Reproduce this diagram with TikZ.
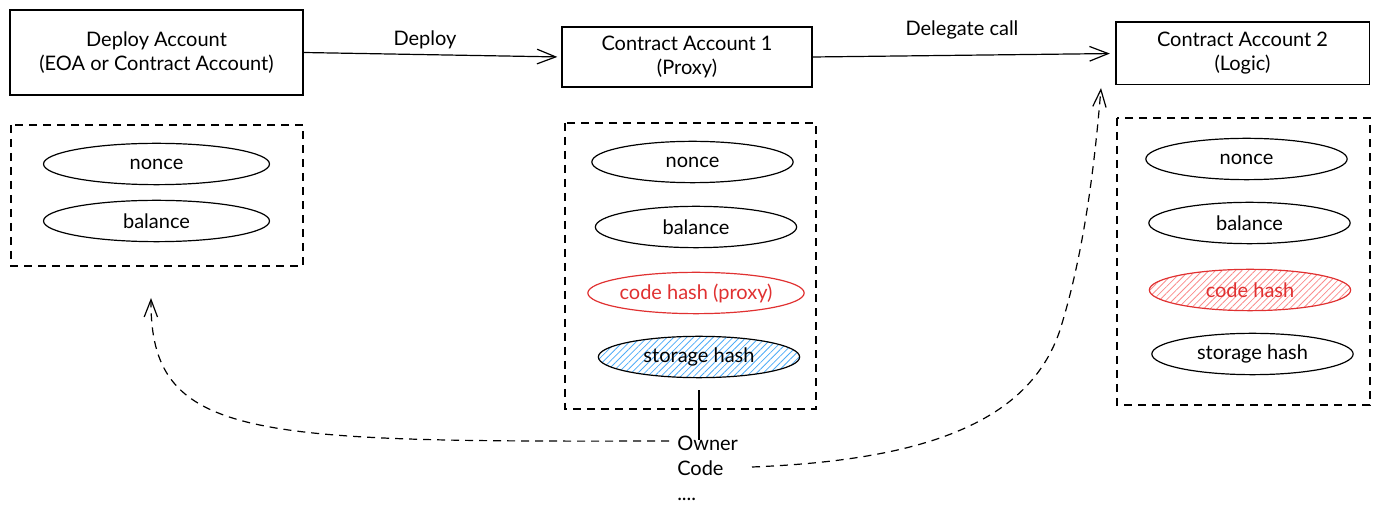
\documentclass[tikz,border=0pt]{standalone}
\usepackage{fontspec}
\setmainfont{Lato}
\usetikzlibrary{shapes.geometric,arrows.meta,patterns.meta}
\definecolor{hashred}{RGB}{224,49,49}
\definecolor{hatchred}{RGB}{250,140,140}
\definecolor{hatchblue}{RGB}{77,171,247}

\begin{document}
\begin{tikzpicture}[x=0.75pt,y=0.75pt,yscale=-1,xscale=1,
  every node/.style={font=\fontsize{15}{18}\selectfont},
  acct/.style={draw, line width=1pt, align=center, inner sep=0pt},
  field/.style={draw, ellipse, line width=0.9pt, inner sep=0pt, minimum width=151pt, minimum height=31pt},
  hatch/.style={pattern={Lines[angle=45,distance=3.5pt,line width=0.6pt]}, pattern color=#1},
  store/.style={dash pattern=on 6pt off 4.5pt, line width=0.9pt},
  arr/.style={line width=0.9pt, shorten >=3pt, -{Straight Barb[length=14pt,width=11pt]}},
  link/.style={line width=0.9pt, dash pattern=on 6pt off 4.5pt, -{Straight Barb[length=13pt,width=10pt]}}]
\useasboundingbox (0,0) rectangle (1379,516);

%Shape: Rectangle [accounts]
\node [acct, minimum width=219.75pt, minimum height=63.75pt] (deploy) at (156.5,52.5) {Deploy Account\\(EOA or Contract Account)};
\node [acct, minimum width=187.5pt, minimum height=45pt] (ca1) at (687,57) {Contract Account 1\\(Proxy)};
\node [acct, minimum width=190pt, minimum height=47pt] (ca2) at (1242.5,53.5) {Contract Account 2\\(Logic)};

%Shape: Rectangle [dashed stores]
\draw [store] (11,125) rectangle (303,266);
\draw [store] (565,123) rectangle (816,409);
\draw [store] (1117,118) rectangle (1370,405);

%Shape: Ellipse [deploy account]
\node [field, minimum width=169.5pt] (n0) at (156.5,164) {nonce};
\node [field, minimum width=169.5pt] (b0) at (156.5,221) {balance};

%Shape: Ellipse [contract account 1]
\node [field] (n1) at (692.5,162) {nonce};
\node [field] (b1) at (696,227) {balance};
\node [field, draw=hashred, text=hashred] (c1) at (696,293) {code hash (proxy)};
\node [field, hatch=hatchblue] (s1) at (699,357) {storage hash};

%Shape: Ellipse [contract account 2]
\node [field] (n2) at (1246.5,159) {nonce};
\node [field] (b2) at (1249.5,223) {balance};
\node [field, draw=hashred, text=hashred, hatch=hatchred] (c2) at (1250,290) {code hash};
\node [field] (s2) at (1252.5,354) {storage hash};

% Text Node
\node [anchor=north west, align=left, inner sep=0pt, font=\fontsize{15}{18.75}\selectfont] (owner) at (677,436) {Owner\\Code\\....};

%Straight Lines
\draw [arr] (deploy.east) -- (ca1.west);
\node (deployLbl) at (425,40) {Deploy};
\draw [arr, shorten >=4pt] (ca1.east) -- (ca2.west);
\node (delegLbl) at (962,30) {Delegate call};
\draw [line width=0.9pt] ([yshift=9pt]s1.south) -- ([yshift=3pt]s1.south |- owner.north);

%Curve Lines
\coordinate (ownerL) at (669,441);
\coordinate (back) at (151,298);
\coordinate (codeR) at (752,467);
\coordinate (fwd) at (1101,88);
\draw [link] (ownerL) .. controls (250,442) and (150,440) .. (back);
\draw [link] (codeR) .. controls (930,460) and (1030,420) .. (1060,330) .. controls (1085,250) and (1095,160) .. (fwd);

\end{tikzpicture}
\end{document}
